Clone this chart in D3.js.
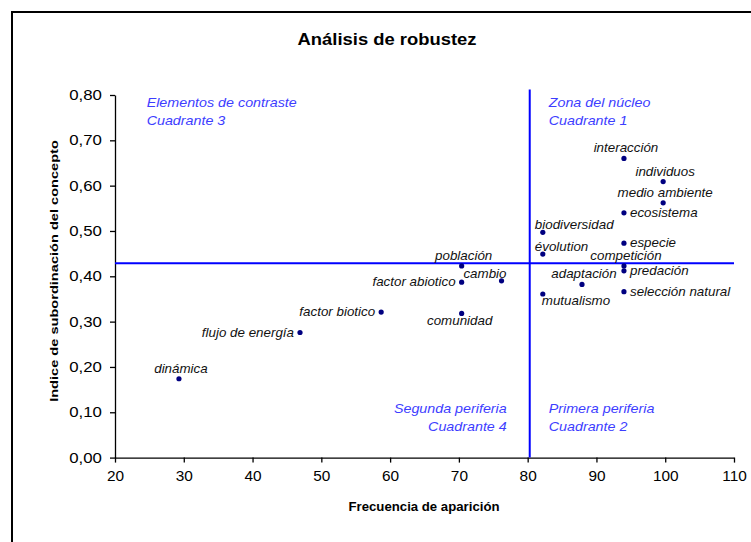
<!DOCTYPE html>
<html>
<head>
<meta charset="utf-8">
<script src="https://cdn.jsdelivr.net/npm/d3@7"></script>
<style>
  html, body { margin: 0; padding: 0; background: #fff; }
  svg { display: block; }
  text { font-family: "Liberation Sans", Arial, sans-serif; }
</style>
</head>
<body>
<svg id="chart" width="751" height="542"></svg>
<script>
// ---- data ----
const terms = ["interacción", "individuos", "medio ambiente", "ecosistema", "biodiversidad",
  "especie", "évolution", "competición", "predación", "selección natural", "adaptación",
  "mutualismo", "población", "cambio", "factor abiotico", "comunidad", "factor biotico",
  "flujo de energía", "dinámica"];
const frequency = [94.0, 99.7, 99.7, 94.0, 82.2, 94.0, 82.2, 94.0, 94.0, 94.0, 87.9,
  82.2, 70.4, 76.2, 70.4, 70.4, 58.7, 46.9, 29.3];
const subordination = [0.660, 0.609, 0.562, 0.540, 0.497, 0.473, 0.449, 0.423, 0.412,
  0.366, 0.382, 0.361, 0.423, 0.390, 0.387, 0.318, 0.321, 0.276, 0.174];
const labelSide = ["top", "top", "top", "right", "topStart", "right", "topStart", "top",
  "right", "right", "top", "bottomStart", "top", "topEnd", "left", "bottom", "left",
  "left", "top"];
const xTicks = [20, 30, 40, 50, 60, 70, 80, 90, 100, 110];
const yTicks = [0, 0.1, 0.2, 0.3, 0.4, 0.5, 0.6, 0.7, 0.8];
const thresholdFrequency = 80.3;
const thresholdSubordination = 0.4286;
const quadrantNames = [["Elementos de contraste", "Cuadrante 3"], ["Zona del núcleo", "Cuadrante 1"],
  ["Segunda periferia", "Cuadrante 4"], ["Primera periferia", "Cuadrante 2"]];
const chartTitle = "Análisis de robustez";
const xTitle = "Frecuencia de aparición";
const yTitle = "Indice de subordinación del concepto";

// ---- layout ----
const svg = d3.select("#chart");
const SX = 1.1; // horizontal glyph stretch of the reference
const x = d3.scaleLinear().domain([20, 110]).range([115, 734]);
const y = d3.scaleLinear().domain([0, 0.8]).range([457.6, 95]);
const fmt = v => d3.format(".2f")(v).replace(".", ",");

// outer frame (open at right / bottom, cut by the window)
svg.append("rect").attr("x", 12).attr("y", 12).attr("width", 800).attr("height", 600)
  .attr("fill", "none").attr("stroke", "#000").attr("stroke-width", 2);

// title
svg.append("text").attr("transform", `translate(387,45) scale(1.15,1)`)
  .attr("text-anchor", "middle").attr("font-size", 16).attr("font-weight", "bold")
  .text(chartTitle);

// axes
const xAxis = svg.append("g").attr("transform", `translate(0,${y(0)})`)
  .call(d3.axisBottom(x).tickValues(xTicks).tickSize(5).tickSizeOuter(0).tickPadding(8));
const yAxis = svg.append("g").attr("transform", `translate(${x(20)},0)`)
  .call(d3.axisLeft(y).tickValues(yTicks).tickFormat(fmt).tickSize(5).tickSizeOuter(0).tickPadding(6));
[xAxis, yAxis].forEach(a => {
  a.select(".domain").attr("stroke", "#000").attr("stroke-width", 1.3);
  a.selectAll(".tick line").attr("stroke", "#000").attr("stroke-width", 1.3);
  a.selectAll(".tick text").attr("font-size", 14).attr("fill", "#000")
    .attr("font-family", "'Liberation Sans', Arial, sans-serif");
});
xAxis.selectAll(".tick text").attr("transform", `scale(${SX},1)`);
yAxis.selectAll(".tick text").attr("transform", `scale(1.2,1)`);

// axis titles
svg.append("text").attr("transform", `translate(424,511) scale(${SX},1)`)
  .attr("text-anchor", "middle").attr("font-size", 12).attr("font-weight", "bold")
  .text(xTitle);
svg.append("text").attr("transform", `translate(58,271) rotate(-90) scale(1.27,1)`)
  .attr("text-anchor", "middle").attr("font-size", 11.5).attr("font-weight", "bold")
  .text(yTitle);

// quadrant dividers
svg.append("line")
  .attr("x1", x(20)).attr("x2", x(110))
  .attr("y1", y(thresholdSubordination)).attr("y2", y(thresholdSubordination))
  .attr("stroke", "#0000ff").attr("stroke-width", 2);
svg.append("line")
  .attr("x1", x(thresholdFrequency)).attr("x2", x(thresholdFrequency))
  .attr("y1", y(0.812)).attr("y2", y(0))
  .attr("stroke", "#0000ff").attr("stroke-width", 2);

// quadrant captions
const qBlue = "#3d3dff";
const qPos = [
  {x: x(24.6), y: y(0.773), anchor: "start"},
  {x: x(thresholdFrequency) + 19, y: y(0.773), anchor: "start"},
  {x: x(thresholdFrequency) - 23, y: y(0.098), anchor: "end"},
  {x: x(thresholdFrequency) + 19, y: y(0.098), anchor: "start"}
];
quadrantNames.forEach((lines, i) => {
  const p = qPos[i];
  const g = svg.append("g").attr("transform", `translate(${p.x},${p.y}) scale(${SX},1)`);
  lines.forEach((t, j) => {
    g.append("text").attr("x", 0).attr("y", j * 17.5)
      .attr("text-anchor", p.anchor).attr("font-size", 13).attr("font-style", "italic")
      .attr("fill", qBlue).text(t);
  });
});

// points
const pts = terms.map((t, i) => ({term: t, fx: frequency[i], sy: subordination[i], side: labelSide[i]}));
svg.append("g").selectAll("circle").data(pts).join("circle")
  .attr("cx", d => x(d.fx)).attr("cy", d => y(d.sy)).attr("r", 2.6)
  .attr("fill", "#000080");

// labels
const sideCfg = {
  top: {dx: 2, dy: -6, anchor: "middle"},
  bottom: {dx: -2, dy: 12, anchor: "middle"},
  right: {dx: 6, dy: 4, anchor: "start"},
  left: {dx: -6, dy: 4, anchor: "end"},
  topStart: {dx: -8, dy: -3, anchor: "start"},
  bottomStart: {dx: -1, dy: 11, anchor: "start"},
  topEnd: {dx: 5, dy: -3, anchor: "end"}
};
svg.append("g").selectAll("text").data(pts).join("text")
  .attr("transform", d => {
    const c = sideCfg[d.side];
    return `translate(${x(d.fx) + c.dx},${y(d.sy) + c.dy}) scale(1.07,1)`;
  })
  .attr("text-anchor", d => sideCfg[d.side].anchor)
  .attr("font-size", 12.5).attr("font-style", "italic").attr("fill", "#111")
  .text(d => d.term);
</script>
</body>
</html>
